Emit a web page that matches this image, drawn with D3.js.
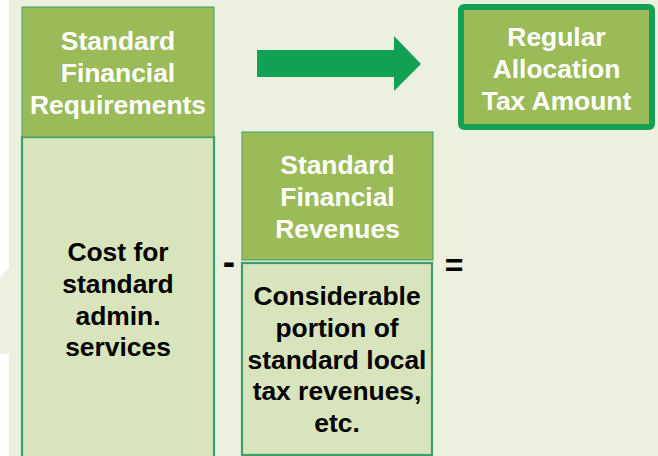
<!DOCTYPE html>
<html>
<head>
<meta charset="utf-8">
<script src="https://cdn.jsdelivr.net/npm/d3@7"></script>
<style>
  html, body { margin: 0; padding: 0; background: #ffffff; }
  svg { display: block; }
  text { font-family: "Liberation Sans", Arial, sans-serif; font-weight: bold; }
</style>
</head>
<body>
<svg id="chart" width="658" height="456"></svg>
<script>
// ---- content ----
const headerLabels = [
  ["Standard", "Financial", "Requirements"],
  ["Standard", "Financial", "Revenues"],
  ["Regular", "Allocation", "Tax Amount"]
];
const bodyLabels = [
  ["Cost for", "standard", "admin.", "services"],
  ["Considerable", "portion of", "standard local", "tax revenues,", "etc."]
];
const operators = ["-", "="];

// ---- styles ----
const C = {
  bg: "#ebf0df",
  strip: "#ffffff",
  header: "#9bbb59",
  body: "#d8e4bc",
  border: "#3e9e6b",
  accent: "#12a055",
  white: "#ffffff",
  black: "#000000"
};

const svg = d3.select("#chart");
const W = 658, H = 456;
const FS = 26.4;

// background
svg.append("rect").attr("x", 0).attr("y", 0).attr("width", W).attr("height", H).attr("fill", C.strip);
svg.append("path")
  .attr("d", d3.line()([[9,0],[W,0],[W,H],[9,H],[9,354],[0,354],[0,277],[9,268]]) + "Z")
  .attr("fill", C.bg);

const headerBoxes = [
  {x: 22, y: 7, w: 192, h: 130, lines: headerLabels[0], baseline: 50},
  {x: 242, y: 132, w: 191, h: 128, lines: headerLabels[1], baseline: 174}
];
const bodyBoxes = [
  {x: 22, y: 137, w: 192, h: 340, lines: bodyLabels[0], baseline: 261},
  {x: 242, y: 263, w: 190, h: 192, lines: bodyLabels[1], baseline: 305}
];
const lineStep = 31.8;

function drawLines(g, lines, cx, baseline, color) {
  g.append("text")
    .attr("text-anchor", "middle")
    .attr("font-size", FS)
    .attr("fill", color)
    .selectAll("tspan")
    .data(lines)
    .join("tspan")
    .attr("x", cx)
    .attr("y", (d, i) => baseline + i * lineStep)
    .text(d => d);
}

bodyBoxes.forEach(b => {
  svg.append("rect")
    .attr("x", b.x).attr("y", b.y).attr("width", b.w).attr("height", b.h)
    .attr("fill", C.body).attr("stroke", C.border).attr("stroke-width", 2.2);
  drawLines(svg, b.lines, b.x + b.w / 2, b.baseline, C.black);
});

headerBoxes.forEach(b => {
  svg.append("rect")
    .attr("x", b.x).attr("y", b.y).attr("width", b.w).attr("height", b.h)
    .attr("fill", C.header).attr("stroke", C.border).attr("stroke-width", 1);
  drawLines(svg, b.lines, b.x + b.w / 2, b.baseline, C.white);
});

// result box
const res = {x: 461, y: 7, w: 191, h: 120};
svg.append("rect")
  .attr("x", res.x).attr("y", res.y).attr("width", res.w).attr("height", res.h)
  .attr("rx", 3)
  .attr("fill", C.header).attr("stroke", C.accent).attr("stroke-width", 6);
drawLines(svg, headerLabels[2], res.x + res.w / 2, 46, C.white);

// arrow
svg.append("path")
  .attr("d", d3.line()([[257,50],[394,50],[394,36],[421,64],[394,91],[394,77],[257,77]]) + "Z")
  .attr("fill", C.accent);

// operators
svg.append("text").attr("x", 229).attr("y", 274).attr("text-anchor", "middle")
  .attr("font-size", 37).attr("fill", C.black).text(operators[0]);
svg.append("text").attr("x", 454).attr("y", 276).attr("text-anchor", "middle")
  .attr("font-size", 32).attr("fill", C.black).text(operators[1]);
</script>
</body>
</html>
